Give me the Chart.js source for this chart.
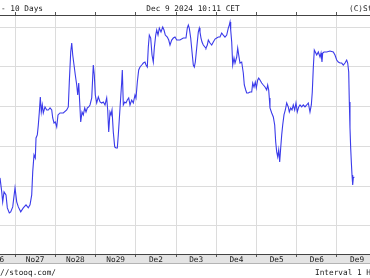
<!DOCTYPE html>
<html>
<head>
<meta charset="utf-8">
<script src="https://cdn.jsdelivr.net/npm/chart.js@4.4.1/dist/chart.umd.min.js"></script>
<style>
  html, body { margin: 0; padding: 0; background: #fff; }
  #wrap { width: 370px; height: 278px; position: relative; }
</style>
</head>
<body>
<div id="wrap"><canvas id="chart"></canvas></div>
<script>
// time axis: trading-day index (1 = start of Nov 27), hourly quotes
const dayPos = [
  0.627, 0.670, 0.694, 0.727, 0.776, 0.809, 0.858, 0.893, 0.943, 1.000,
  1.042, 1.082, 1.142, 1.206, 1.273, 1.330, 1.373, 1.415, 1.440, 1.472,
  1.504, 1.522, 1.554, 1.579, 1.604, 1.629, 1.653, 1.678, 1.703, 1.745,
  1.788, 1.827, 1.870, 1.912, 1.937, 1.969, 2.001, 2.036, 2.068, 2.118,
  2.200, 2.284, 2.324, 2.349, 2.384, 2.409, 2.434, 2.466, 2.498, 2.533,
  2.558, 2.583, 2.607, 2.632, 2.665, 2.697, 2.732, 2.764, 2.796, 2.831,
  2.863, 2.906, 2.945, 2.970, 2.995, 3.030, 3.070, 3.112, 3.154, 3.194,
  3.236, 3.278, 3.303, 3.328, 3.360, 3.385, 3.410, 3.442, 3.477, 3.509,
  3.542, 3.566, 3.609, 3.651, 3.666, 3.691, 3.726, 3.758, 3.790, 3.825,
  3.857, 3.899, 3.939, 3.981, 4.006, 4.039, 4.073, 4.106, 4.148, 4.188,
  4.230, 4.255, 4.287, 4.312, 4.337, 4.371, 4.404, 4.436, 4.461, 4.496,
  4.521, 4.553, 4.585, 4.627, 4.670, 4.702, 4.734, 4.784, 4.819, 4.851,
  4.893, 4.933, 4.975, 5.017, 5.057, 5.099, 5.181, 5.248, 5.281, 5.306,
  5.330, 5.365, 5.398, 5.430, 5.455, 5.480, 5.514, 5.554, 5.579, 5.596,
  5.621, 5.646, 5.678, 5.721, 5.745, 5.778, 5.803, 5.845, 5.887, 5.927,
  5.969, 6.011, 6.051, 6.093, 6.135, 6.175, 6.217, 6.260, 6.299, 6.324,
  6.342, 6.359, 6.384, 6.409, 6.441, 6.466, 6.508, 6.533, 6.558, 6.590,
  6.632, 6.672, 6.697, 6.732, 6.757, 6.796, 6.839, 6.881, 6.906, 6.938,
  6.970, 6.995, 7.030, 7.055, 7.087, 7.129, 7.169, 7.211, 7.253, 7.278,
  7.303, 7.318, 7.335, 7.378, 7.418, 7.452, 7.477, 7.502, 7.527, 7.552,
  7.576, 7.601, 7.626, 7.651, 7.683, 7.716, 7.750, 7.790, 7.815, 7.850,
  7.882, 7.914, 7.949, 7.981, 8.014, 8.049, 8.081, 8.123, 8.163, 8.205,
  8.247, 8.287, 8.329, 8.362, 8.386, 8.411, 8.436, 8.461, 8.496, 8.536,
  8.578, 8.603, 8.627, 8.645, 8.677, 8.744, 8.826, 8.908, 8.950, 8.993,
  9.032, 9.075, 9.117, 9.157, 9.199, 9.241, 9.266, 9.291, 9.306, 9.323,
  9.340, 9.356, 9.373, 9.390, 9.405, 9.430
];

const price = [
  122.08, 118.57, 116.06, 118.57, 117.82, 114.55, 113.30, 113.55, 114.80, 119.57,
  116.06, 114.80, 113.55, 114.55, 115.31, 114.55, 115.31, 117.82, 123.59, 127.86,
  127.10, 132.13, 132.88, 135.39, 138.65, 142.42, 138.65, 140.41, 138.40, 139.91,
  139.15, 139.15, 139.66, 139.15, 137.15, 135.89, 136.14, 134.89, 137.90, 138.40,
  138.40, 139.15, 139.91, 146.18, 153.72, 155.97, 152.96, 150.45, 147.94, 145.43,
  142.92, 145.93, 141.16, 136.14, 138.65, 137.90, 139.66, 138.65, 139.66, 139.91,
  140.41, 142.17, 150.45, 147.94, 142.92, 140.91, 142.42, 141.16, 140.91, 141.16,
  140.41, 142.17, 139.15, 133.63, 138.65, 137.90, 139.15, 133.63, 129.87, 129.61,
  129.61, 132.88, 139.66, 146.18, 149.20, 140.41, 141.16, 140.91, 141.66, 142.17,
  140.41, 141.66, 140.91, 142.92, 142.17, 146.18, 149.20, 149.95, 150.45, 150.95,
  151.20, 150.45, 149.95, 154.97, 157.98, 157.23, 152.96, 151.20, 154.72, 157.98,
  159.24, 157.98, 159.74, 158.74, 159.99, 159.24, 157.98, 157.48, 156.73, 155.47,
  156.73, 157.23, 157.48, 156.73, 156.73, 156.73, 157.23, 157.23, 159.74, 160.49,
  159.74, 157.23, 153.72, 150.45, 149.95, 151.20, 154.72, 158.74, 159.74, 158.74,
  157.23, 156.23, 155.47, 154.97, 154.72, 155.47, 156.73, 155.97, 155.47, 156.23,
  156.98, 157.23, 157.48, 157.48, 158.49, 157.98, 157.48, 157.98, 159.74, 160.49,
  161.25, 159.24, 156.23, 150.45, 152.21, 150.95, 152.46, 154.72, 152.96, 150.95,
  151.20, 148.44, 145.43, 144.18, 143.42, 143.42, 143.67, 143.67, 145.93, 144.93,
  146.18, 144.68, 146.69, 147.19, 146.69, 145.93, 145.43, 144.93, 144.18, 145.43,
  144.18, 142.17, 139.66, 138.40, 137.40, 135.39, 131.12, 128.61, 127.36, 129.11,
  126.10, 129.61, 132.88, 135.39, 137.90, 139.15, 140.91, 139.91, 138.65, 139.66,
  139.15, 140.41, 139.15, 140.91, 138.65, 139.91, 140.41, 139.91, 140.41, 139.91,
  140.41, 140.91, 138.65, 140.41, 143.67, 149.70, 154.22, 153.72, 152.96, 153.72,
  152.46, 153.46, 151.20, 153.46, 153.72, 153.72, 153.97, 153.72, 152.96, 151.71,
  151.20, 150.95, 150.95, 150.45, 150.95, 151.71, 150.95, 148.69, 141.16, 134.64,
  129.61, 126.10, 122.84, 120.33, 122.08, 122.33
];

// day boundaries (grid) and day labels (centred in each day)
const dayLines = [1, 2, 3, 4, 5, 6, 7, 8, 9];
const labelPos = [0.5, 1.5, 2.5, 3.5, 4.5, 5.5, 6.5, 7.5, 8.5, 9.5];
const dayLabels = ['No26', 'No27', 'No28', 'No29', 'De2', 'De3', 'De4', 'De5', 'De6', 'De9'];
// horizontal grid levels (price labels are off the cropped picture)
const priceLines = [110, 120, 130, 140, 150, 160];

const xMin = 0.627;
const xMax = 9.82;
const FONT = '"DejaVu Sans Mono", "Liberation Mono", monospace';

const stooqDecor = {
    id: 'stooqDecor',
    beforeDraw(chart) {
        const ctx = chart.ctx;
        const bottom = chart.chartArea.bottom;
        ctx.save();
        ctx.fillStyle = '#e4e4e4';
        ctx.fillRect(0, bottom, chart.width, 10);
        ctx.fillStyle = '#b4b4b4';
        ctx.fillRect(0, bottom + 9, chart.width, 1);
        ctx.restore();
    },
    afterDraw(chart) {
        const ctx = chart.ctx;
        ctx.save();
        ctx.fillStyle = '#1a1a1a';
        ctx.font = '7.75px ' + FONT;
        ctx.textBaseline = 'alphabetic';
        ctx.textAlign = 'left';
        ctx.fillText('- 10 Days', 1, 11);
        ctx.fillText('(C)Stooq.com', 349, 11);
        ctx.fillText('//stooq.com/', 0, 275);
        ctx.fillText('Interval 1 H', 315, 275);
        ctx.textAlign = 'center';
        ctx.fillText('Dec 9 2024 10:11 CET', 193, 11);
        ctx.restore();
    }
};

function noPad(scale) {
    scale.paddingLeft = 0;
    scale.paddingRight = 0;
    scale.paddingTop = 0;
    scale.paddingBottom = 0;
}

new Chart(document.getElementById('chart').getContext('2d'), {
    type: 'line',
    data: {
        datasets: [{
            data: dayPos.map((x, i) => ({ x: x, y: price[i] })),
            borderColor: '#3b3bea',
            borderWidth: 1.1,
            pointRadius: 0,
            tension: 0,
            fill: false
        }]
    },
    options: {
        responsive: true,
        maintainAspectRatio: false,
        animation: false,
        events: [],
        layout: { padding: { top: 12, left: 0, right: 0, bottom: 0 } },
        plugins: {
            legend: { display: false },
            tooltip: { enabled: false },
            title: { display: false }
        },
        scales: {
            x: {
                type: 'linear',
                position: 'bottom',
                min: xMin,
                max: xMax,
                afterBuildTicks: function(scale) {
                    scale.ticks = dayLines.concat(labelPos)
                        .sort((a, b) => a - b)
                        .map(v => ({ value: v }));
                },
                afterFit: function(scale) {
                    scale.height = 24;
                    noPad(scale);
                },
                grid: {
                    color: c => Number.isInteger(c.tick.value) ? '#dcdcdc' : 'rgba(0,0,0,0)',
                    tickColor: c => Number.isInteger(c.tick.value) ? '#555' : 'rgba(0,0,0,0)',
                    tickLength: 3,
                    lineWidth: 1
                },
                border: { color: '#444', width: 1 },
                ticks: {
                    autoSkip: false,
                    maxRotation: 0,
                    padding: -2,
                    color: '#1a1a1a',
                    font: { family: FONT, size: 7.75 },
                    callback: function(value) {
                        const i = labelPos.indexOf(value);
                        return i >= 0 ? dayLabels[i] : '';
                    }
                }
            },
            xTop: {
                type: 'linear',
                position: 'top',
                min: xMin,
                max: xMax,
                afterBuildTicks: function(scale) {
                    scale.ticks = dayLines.map(v => ({ value: v }));
                },
                afterFit: function(scale) {
                    scale.height = 3;
                    noPad(scale);
                },
                grid: {
                    drawOnChartArea: false,
                    tickColor: '#555',
                    tickLength: 3
                },
                border: { color: '#444', width: 1 },
                ticks: { display: false }
            },
            y: {
                min: 102.96,
                max: 163.02,
                afterBuildTicks: function(scale) {
                    scale.ticks = priceLines.map(v => ({ value: v }));
                },
                afterFit: function(scale) {
                    scale.width = 0;
                    noPad(scale);
                },
                grid: { color: '#dcdcdc', drawTicks: false, lineWidth: 1 },
                border: { display: false },
                ticks: { display: false }
            }
        }
    },
    plugins: [stooqDecor]
});
</script>
</body>
</html>
